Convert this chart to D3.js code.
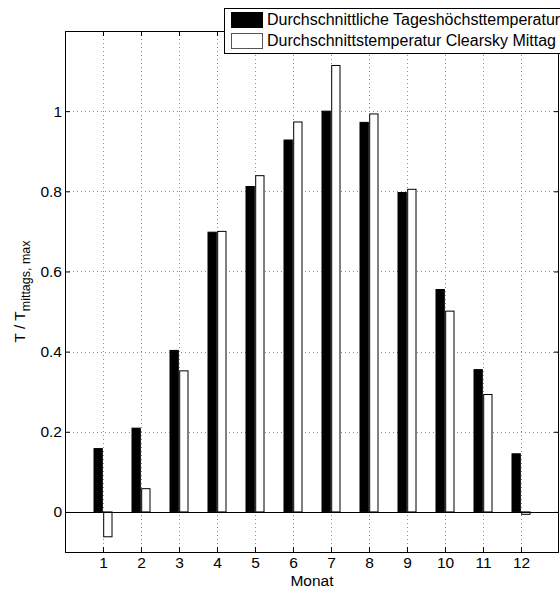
<!DOCTYPE html>
<html lang="de">
<head>
<meta charset="UTF-8">
<title>Monatliche Temperaturen</title>
<script src="https://d3js.org/d3.v7.min.js"></script>
<style>
    body { margin: 0; background: white; }
    svg { display: block; font-family: 'Liberation Sans', Arial, Helvetica, sans-serif; }
    .grid line { stroke: #8c8c8c; stroke-dasharray: 1,3; stroke-width: 1; }
</style>
</head>
<body>
<svg id="chart" width="560" height="590"></svg>
<script>
    // data
    const months = [1, 2, 3, 4, 5, 6, 7, 8, 9, 10, 11, 12];
    const tagesHoechst = [0.158, 0.209, 0.403, 0.698, 0.812, 0.928, 1.0, 0.972, 0.797, 0.555, 0.355, 0.145];
    const clearskyMittag = [-0.062, 0.058, 0.352, 0.700, 0.839, 0.973, 1.114, 0.993, 0.805, 0.501, 0.293, -0.006];
    const seriesNames = ['Durchschnittliche Tageshöchsttemperatur', 'Durchschnittstemperatur Clearsky Mittag'];
    const yTicks = [0, 0.2, 0.4, 0.6, 0.8, 1];
    const yTickLabels = ['0', '0.2', '0.4', '0.6', '0.8', '1'];

    const margin = { left: 65, right: 1, top: 31, bottom: 38 };
    const width = 560, height = 590;

    const svg = d3.select('#chart');

    const x = d3.scaleLinear().domain([0, 13]).range([margin.left, width - margin.right]);
    const y = d3.scaleLinear().domain([-0.1, 1.2]).range([height - margin.bottom, margin.top]);
    // offset of each series inside a month group (in month units)
    const inner = d3.scaleBand().domain([0, 1]).range([-0.25, 0.25]).paddingInner(0.04);

    const x0 = margin.left, x1 = width - margin.right;
    const y0 = height - margin.bottom, y1 = margin.top;

    // grid
    const grid = svg.append('g').attr('class', 'grid');
    grid.selectAll('.gx').data(months).enter().append('line')
        .attr('x1', d => Math.round(x(d)) + 0.5).attr('x2', d => Math.round(x(d)) + 0.5)
        .attr('y1', y1).attr('y2', y0);
    grid.selectAll('.gy').data(yTicks).enter().append('line')
        .attr('y1', d => Math.round(y(d)) + 0.5).attr('y2', d => Math.round(y(d)) + 0.5)
        .attr('x1', x0).attr('x2', x1);

    // bars
    const series = [tagesHoechst, clearskyMittag];
    const fills = ['#000', '#fff'];
    series.forEach((vals, si) => {
        svg.append('g').selectAll('rect')
            .data(months.map((m, i) => ({ m, v: vals[i] })))
            .enter().append('rect')
            .attr('x', d => x(d.m + inner(si)) + 0.5)
            .attr('width', x(inner.bandwidth()) - x(0) - 1)
            .attr('y', d => y(Math.max(0, d.v)))
            .attr('height', d => Math.abs(y(d.v) - y(0)))
            .attr('fill', fills[si])
            .attr('stroke', '#000')
            .attr('stroke-width', 1);
    });

    // baseline
    svg.append('line')
        .attr('x1', x0).attr('x2', x1)
        .attr('y1', Math.round(y(0)) + 0.5).attr('y2', Math.round(y(0)) + 0.5)
        .attr('stroke', '#000');

    // axes (box with inward ticks)
    const tickLen = 5;
    const xAxisB = d3.axisBottom(x).tickValues(months).tickSize(-tickLen).tickPadding(5);
    const xAxisT = d3.axisTop(x).tickValues(months).tickSize(-tickLen).tickFormat('');
    const yAxisL = d3.axisLeft(y).tickValues(yTicks).tickSize(-tickLen).tickPadding(3)
        .tickFormat((d, i) => yTickLabels[i]);
    const yAxisR = d3.axisRight(y).tickValues(yTicks).tickSize(-tickLen).tickFormat('');

    function style(g) {
        g.select('.domain').remove();
        g.selectAll('.tick line').attr('stroke', '#000');
        g.selectAll('.tick text').attr('fill', '#000').style('font-size', '15.5px')
            .style('font-family', "'Liberation Sans', Arial, sans-serif");
    }
    svg.append('g').attr('transform', `translate(0,${y0})`).call(xAxisB).call(style);
    svg.append('g').attr('transform', `translate(0,${y1})`).call(xAxisT).call(style);
    svg.append('g').attr('transform', `translate(${x0},0)`).call(yAxisL).call(style);
    svg.append('g').attr('transform', `translate(${x1},0)`).call(yAxisR).call(style);

    svg.append('rect')
        .attr('x', x0 + 0.5).attr('y', y1 + 0.5)
        .attr('width', x1 - x0 - 1).attr('height', y0 - y1)
        .attr('fill', 'none').attr('stroke', '#000');

    // axis labels
    svg.append('text')
        .attr('x', (x0 + x1) / 2).attr('y', 586)
        .attr('text-anchor', 'middle')
        .style('font-size', '15.5px')
        .text('Monat');

    const yl = svg.append('text')
        .attr('transform', `translate(25,${(y0 + y1) / 2}) rotate(-90)`)
        .attr('text-anchor', 'middle')
        .style('font-size', '15.5px');
    yl.append('tspan').text('T / T');
    yl.append('tspan').attr('dy', 5).style('font-size', '12.5px').text('mittags, max');

    // legend
    const lg = svg.append('g').attr('transform', 'translate(224,8)');
    lg.append('rect').attr('x', 0.5).attr('y', 0.5).attr('width', 360).attr('height', 45)
        .attr('fill', '#fff').attr('stroke', '#000');
    seriesNames.forEach((name, i) => {
        const ry = 4 + i * 21;
        lg.append('rect').attr('x', 7.5).attr('y', ry + 0.5).attr('width', 31).attr('height', 15)
            .attr('fill', fills[i]).attr('stroke', i === 0 ? '#000' : '#555');
        lg.append('text').attr('x', 43).attr('y', ry + 13)
            .style('font-size', '16px').text(name);
    });
</script>
</body>
</html>
